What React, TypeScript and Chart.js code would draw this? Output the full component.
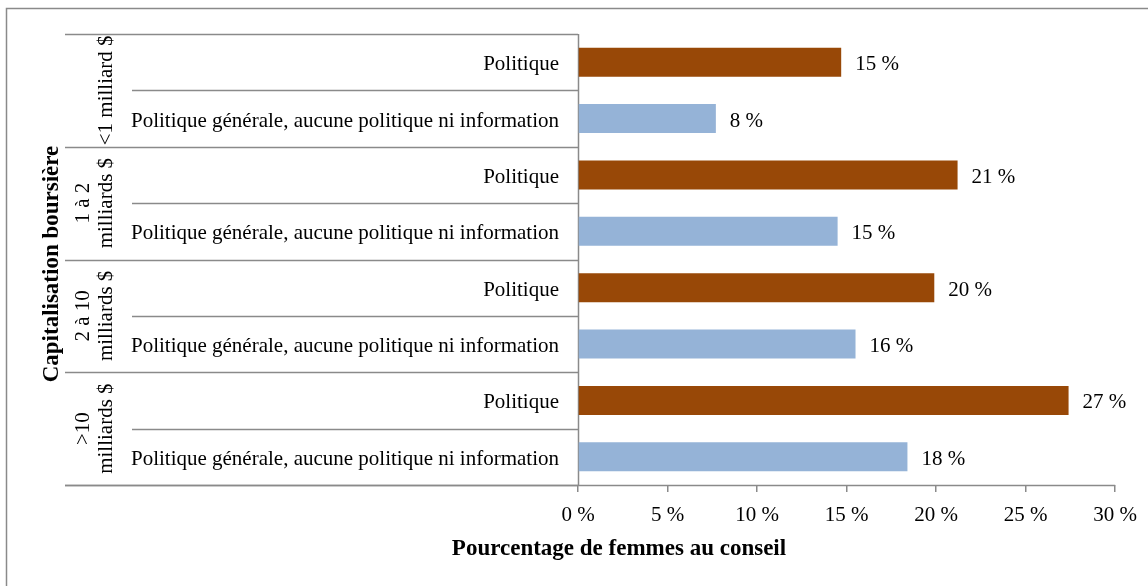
import React, { useEffect, useRef } from 'react';
import { Chart, registerables } from 'chart.js';

Chart.register(...registerables);

// ---- data ----
const groupLabels: string[][] = [
  ['<1 milliard $'],
  ['1 à 2', 'milliards $'],
  ['2 à 10', 'milliards $'],
  ['>10', 'milliards $'],
];
const seriesNames = ['Politique', 'Politique générale, aucune politique ni information'];
const policyValues = [14.7, 21.2, 19.9, 27.4];
const generalValues = [7.7, 14.5, 15.5, 18.4];
const xTickValues = [0, 5, 10, 15, 20, 25, 30];
const xTitle = 'Pourcentage de femmes au conseil';
const yTitle = 'Capitalisation boursière';

const policyColor = '#984807';
const generalColor = '#95B3D7';
const lineColor = '#8a8a8a';
const FONT = "'Liberation Serif', 'Times New Roman', serif";
const FS = 21;
const TFS = 23;

const rowLabels: string[] = [];
const policyData: (number | null)[] = [];
const generalData: (number | null)[] = [];
groupLabels.forEach((_, g) => {
  rowLabels.push(seriesNames[0], seriesNames[1]);
  policyData.push(policyValues[g], null);
  generalData.push(null, generalValues[g]);
});

const decorPlugin = {
  id: 'decor',
  beforeDatasetsDraw(chart: any) {
    const { ctx, chartArea, scales } = chart;
    const y = scales.y;
    const left = chartArea.left;
    ctx.save();
    // outer frame
    ctx.strokeStyle = lineColor;
    ctx.lineWidth = 1.5;
    ctx.strokeRect(6.5, 8.5, 1160, 600);
    // row separators
    for (let k = 0; k <= rowLabels.length; k++) {
      const py = Math.round(y.getPixelForValue(k - 0.5)) + 0.5;
      const x0 = k % 2 === 0 ? 65 : 132;
      ctx.beginPath();
      ctx.moveTo(x0, py);
      ctx.lineTo(left, py);
      ctx.stroke();
    }
    // y axis line
    ctx.beginPath();
    ctx.moveTo(left + 0.5, chartArea.top);
    ctx.lineTo(left + 0.5, chartArea.bottom);
    ctx.stroke();
    // x axis line
    const by = Math.round(chartArea.bottom) + 0.5;
    ctx.beginPath();
    ctx.moveTo(65, by);
    ctx.lineTo(chartArea.right, by);
    ctx.stroke();

    ctx.fillStyle = '#000';
    // inner category labels
    ctx.font = `${FS}px ${FONT}`;
    ctx.textAlign = 'right';
    ctx.textBaseline = 'alphabetic';
    rowLabels.forEach((lab, i) => {
      ctx.fillText(lab, left - 19, y.getPixelForValue(i) + 8);
    });
    // group labels (rotated)
    ctx.textAlign = 'center';
    groupLabels.forEach((lines, g) => {
      const cy = y.getPixelForValue(2 * g + 0.5);
      const n = lines.length;
      lines.forEach((ln, j) => {
        const bx = 112 - (n - 1 - j) * 23;
        ctx.save();
        ctx.translate(bx, cy);
        ctx.rotate(-Math.PI / 2);
        ctx.fillText(ln, 0, 0);
        ctx.restore();
      });
    });
    // titles
    ctx.font = `bold ${TFS}px ${FONT}`;
    ctx.textAlign = 'center';
    ctx.fillText(xTitle, 619, 555);
    ctx.save();
    ctx.translate(58, 264);
    ctx.rotate(-Math.PI / 2);
    ctx.fillText(yTitle, 0, 0);
    ctx.restore();
    ctx.restore();
  },
  afterDatasetsDraw(chart: any) {
    const { ctx } = chart;
    ctx.save();
    ctx.font = `${FS}px ${FONT}`;
    ctx.fillStyle = '#000';
    ctx.textAlign = 'left';
    ctx.textBaseline = 'alphabetic';
    chart.data.datasets.forEach((ds: any, di: number) => {
      const meta = chart.getDatasetMeta(di);
      meta.data.forEach((bar: any, i: number) => {
        const v = ds.data[i];
        if (v === null || v === undefined) return;
        ctx.fillText(Math.round(v) + ' %', bar.x + 14, bar.y + 8);
      });
    });
    ctx.restore();
  },
};

export default function App() {
  const ref = useRef<HTMLCanvasElement | null>(null);
  useEffect(() => {
    if (!ref.current) return;
    const chart = new Chart(ref.current, {
      type: 'bar',
      data: {
        labels: rowLabels,
        datasets: [
          {
            label: seriesNames[0],
            data: policyData,
            backgroundColor: policyColor,
            grouped: false,
            barPercentage: 0.515,
            categoryPercentage: 1,
          } as any,
          {
            label: seriesNames[1],
            data: generalData,
            backgroundColor: generalColor,
            grouped: false,
            barPercentage: 0.515,
            categoryPercentage: 1,
          } as any,
        ],
      },
      options: {
        indexAxis: 'y',
        animation: false,
        responsive: false,
        maintainAspectRatio: false,
        layout: { padding: { left: 578, top: 34, right: 30, bottom: 0 } },
        plugins: { legend: { display: false }, tooltip: { enabled: false } },
        scales: {
          y: { type: 'category', display: false },
          x: {
            type: 'linear',
            min: 0,
            max: 30,
            afterBuildTicks: (s: any) => {
              s.ticks = xTickValues.map((v) => ({ value: v }));
            },
            afterFit: (s: any) => {
              s.height = 101;
            },
            ticks: {
              callback: (v: any) => v + ' %',
              color: '#000',
              font: { family: FONT, size: FS },
              padding: 11,
              maxRotation: 0,
              autoSkip: false,
            },
            grid: {
              display: true,
              drawOnChartArea: false,
              drawTicks: true,
              tickLength: 7,
              color: lineColor,
              lineWidth: 1.5,
            },
            border: { display: false },
          },
        },
      },
      plugins: [decorPlugin],
    });
    return () => chart.destroy();
  }, []);
  return (
    <div style={{ position: 'fixed', left: 0, top: 0, width: 1148, height: 586, background: '#fff' }}>
      <canvas ref={ref} width={1148} height={586} style={{ width: 1148, height: 586, display: 'block' }} />
    </div>
  );
}
